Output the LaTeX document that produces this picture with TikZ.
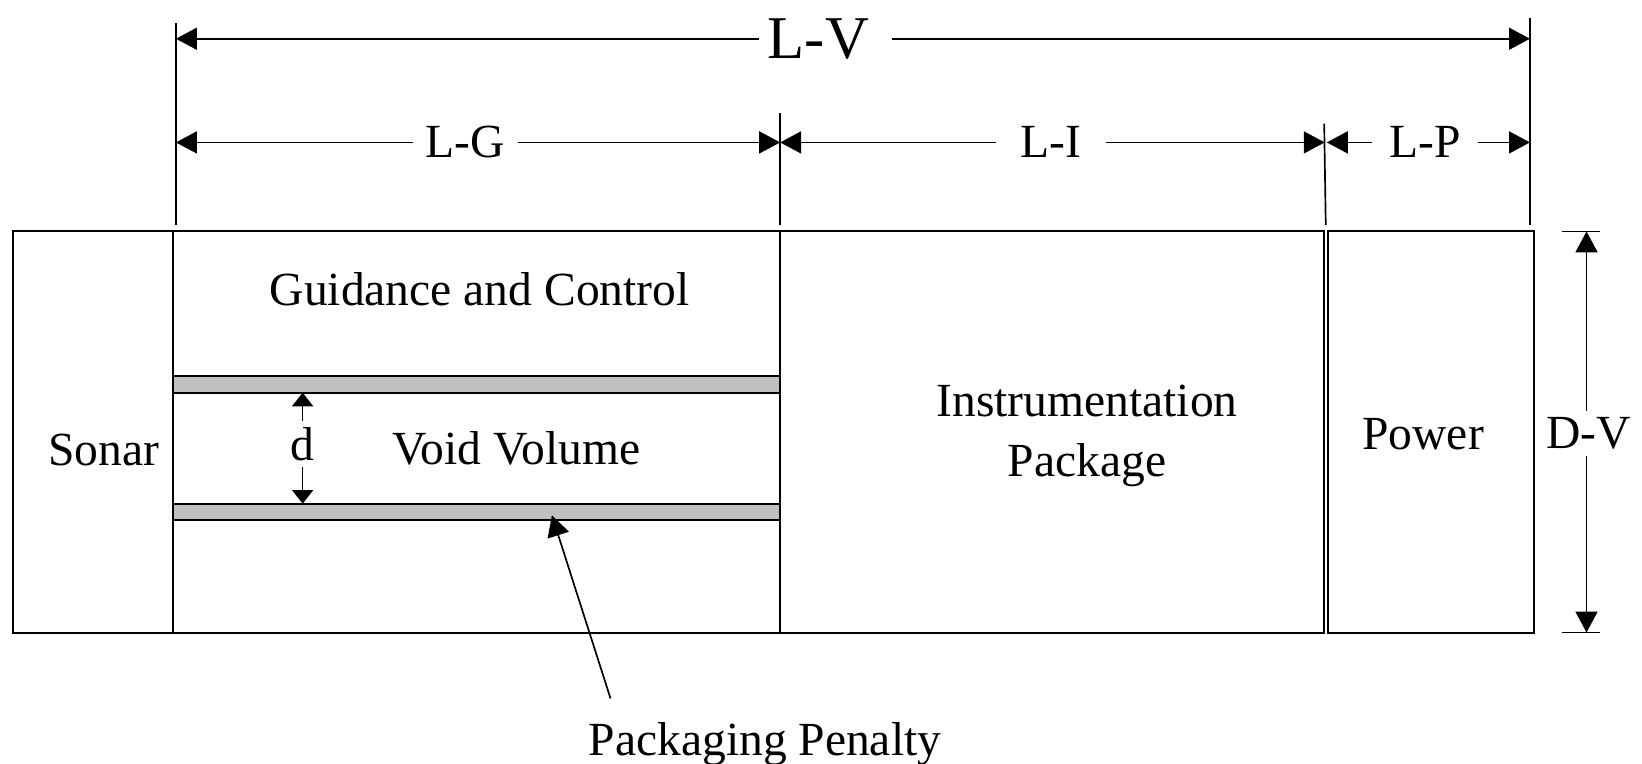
\documentclass[tikz,border=0pt]{standalone}
\usepackage{fontspec}
\setmainfont{Liberation Serif}
\usetikzlibrary{arrows.meta}
\definecolor{barfill}{RGB}{192,192,192}
\begin{document}
\begin{tikzpicture}[x=0.5pt,y=-0.5pt,
  box/.style={draw, line width=0.95pt},
  bar/.style={draw, line width=0.95pt, fill=barfill},
  ext/.style={line width=0.8pt},
  dim/.style={line width=0.8pt, -{Triangle[length=10pt,width=10.5pt]}},
  dsmall/.style={line width=0.8pt, -{Triangle[length=6.5pt,width=10pt]}},
  lbl/.style={font=\fontsize{22.7}{28.5}\selectfont, inner sep=0pt},
  big/.style={font=\fontsize{29}{34}\selectfont, inner sep=0pt},
  ]
\useasboundingbox (0,0) rectangle (1568,729);

% compartments
\draw[box] (12,221) rectangle (165,604);
\draw[box] (165,221) rectangle (745,604);
\draw[box] (745,221) rectangle (1264.4,604);
\draw[box] (1267.8,221) rectangle (1465,604);
\draw[bar] (165,359) rectangle (745,375);
\draw[bar] (165,481) rectangle (745,497);

% extension lines
\draw[ext] (168,22) -- (168,215);
\draw[ext] (1461,17) -- (1461,215);
\draw[ext] (745,108) -- (745,215);
\draw[ext] (1264.5,118) -- (1266,215);
\draw[ext] (1492,221) -- (1528,221);
\draw[ext] (1492,604) -- (1528,604);

% dimension end points
\coordinate (lvA) at (168,37);
\coordinate (lvB) at (1461,37);
\coordinate (lgA) at (168,136);
\coordinate (lgB) at (745,136);
\coordinate (liA) at (745,136);
\coordinate (liB) at (1265,136);
\coordinate (lpA) at (1267,136);
\coordinate (lpB) at (1461,136);
\coordinate (dvT) at (1515,221);
\coordinate (dvB) at (1515,604);
\coordinate (dT) at (289,375);
\coordinate (dB) at (289,481);
\coordinate (ppS) at (583,667);
\coordinate (ppT) at (527,492);

% labels
\node[big, inner xsep=4pt] (lv) at (781.5,37) {L-V};
\node[lbl, inner xsep=6pt] (lg) at (444.5,136) {L-G};
\node[lbl, inner xsep=11.5pt] (li) at (1003.5,136) {L-I};
\node[lbl, inner xsep=8pt] (lp) at (1361,136) {L-P};
\node[lbl, inner ysep=3pt] (dv) at (1517,414) {D-V};
\node[lbl, inner ysep=3pt] (d) at (289,424) {d};

\node[lbl] (gc) at (458,276) {Guidance and Control};
\node[lbl] (vv) at (493,428) {Void Volume};
\node[lbl] (sonar) at (99,430) {Sonar};
\node[lbl, align=center] (instr) at (1038,416) {Instrumentation\\Package};
\node[lbl] (power) at (1359,415) {Power};
\node[lbl, anchor=base] (pp) at (730.5,721) {Packaging Penalty};

% dimension arrows
\draw[dim] (lv.west) -- (lvA);
\draw[dim] ([xshift=7pt]lv.east) -- (lvB);
\draw[dim] (lg.west) -- (lgA);
\draw[dim] (lg.east) -- (lgB);
\draw[dim] (li.west) -- (liA);
\draw[dim] (li.east) -- (liB);
\draw[dim] (lp.west) -- (lpA);
\draw[dim] (lp.east) -- (lpB);
\draw[dim] (dv.north -| dvT) -- (dvT);
\draw[dim] (dv.south -| dvB) -- (dvB);
\draw[dsmall] (d.north -| dT) -- (dT);
\draw[dsmall] (d.south -| dB) -- (dB);

% packaging penalty pointer
\draw[dim] (ppS) -- (ppT);
\end{tikzpicture}
\end{document}
